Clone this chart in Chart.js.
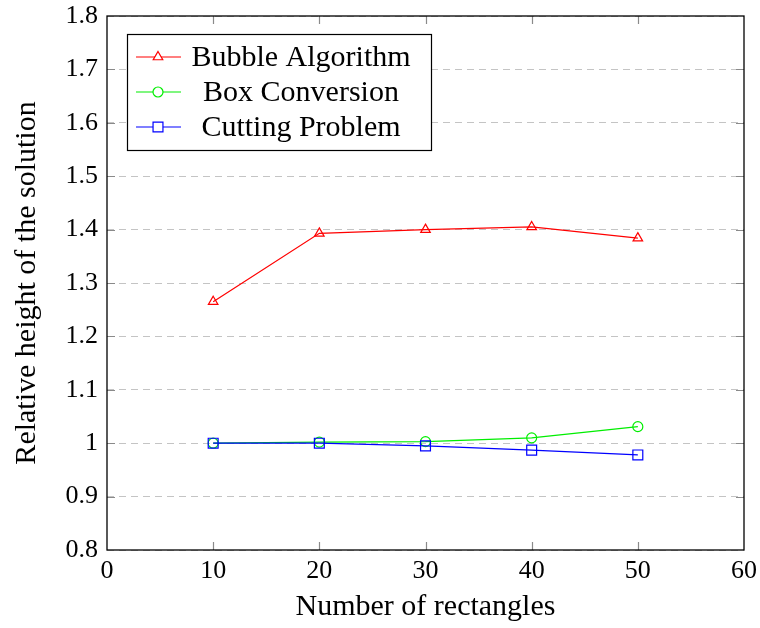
<!DOCTYPE html>
<html>
<head>
<meta charset="utf-8">
<script src="https://cdn.jsdelivr.net/npm/chart.js@4.4.0/dist/chart.umd.min.js"></script>
<style>
  html, body { margin: 0; padding: 0; background: #fff; }
  #wrap { width: 760px; height: 628px; }
</style>
</head>
<body>
<div id="wrap"><canvas id="myChart"></canvas></div>
<script>
// values per number of rectangles
const rectangles = [10, 20, 30, 40, 50];
const bubbleAlgorithm = [1.265, 1.393, 1.400, 1.405, 1.384];
const boxConversion = [1.000, 1.002, 1.003, 1.010, 1.031];
const cuttingProblem = [1.000, 1.000, 0.995, 0.987, 0.978];
const seriesNames = ["Bubble Algorithm", "Box Conversion", "Cutting Problem"];

const xTicks = [0, 10, 20, 30, 40, 50, 60];
const yTicks = [0.8, 0.9, 1, 1.1, 1.2, 1.3, 1.4, 1.5, 1.6, 1.7, 1.8];

const serif = "'Liberation Serif', 'Times New Roman', serif";

function toPoints(ys) {
  return rectangles.map((x, i) => ({ x: x, y: ys[i] }));
}

function series(label, ys, color, style, radius, order) {
  return {
    label: label,
    data: toPoints(ys),
    borderColor: color,
    backgroundColor: "rgba(0,0,0,0)",
    borderWidth: 1.2,
    pointStyle: style,
    pointRadius: radius,
    pointBorderWidth: 1.2,
    pointBorderColor: color,
    pointBackgroundColor: "rgba(0,0,0,0)",
    tension: 0,
    order: order
  };
}

// box around the plot, inward tick marks and the legend inside the plot
const framePlugin = {
  id: "frame",
  afterDraw(chart) {
    const ctx = chart.ctx;
    const a = chart.chartArea;
    const xs = chart.scales.x;
    const ys = chart.scales.y;
    const tick = 8;

    ctx.save();
    ctx.strokeStyle = "#8a8a8a";
    ctx.lineWidth = 1.2;
    ctx.beginPath();
    xTicks.slice(1, -1).forEach(v => {
      const px = Math.round(xs.getPixelForValue(v)) + 0.5;
      ctx.moveTo(px, a.bottom); ctx.lineTo(px, a.bottom - tick);
      ctx.moveTo(px, a.top); ctx.lineTo(px, a.top + tick);
    });
    yTicks.slice(1, -1).forEach(v => {
      const py = Math.round(ys.getPixelForValue(v)) + 0.5;
      ctx.moveTo(a.left, py); ctx.lineTo(a.left + tick, py);
      ctx.moveTo(a.right, py); ctx.lineTo(a.right - tick, py);
    });
    ctx.stroke();

    ctx.strokeStyle = "#000";
    ctx.lineWidth = 1.3;
    ctx.strokeRect(a.left, a.top, a.right - a.left, a.bottom - a.top);

    // legend
    const lx = 127, ly = 34, lw = 304, lh = 116;
    ctx.fillStyle = "#fff";
    ctx.fillRect(lx, ly, lw, lh);
    ctx.strokeStyle = "#000";
    ctx.lineWidth = 1.2;
    ctx.strokeRect(lx + 0.5, ly + 0.5, lw, lh);

    ctx.font = "30px " + serif;
    ctx.textAlign = "center";
    ctx.textBaseline = "middle";
    chart.data.datasets.forEach((ds, i) => {
      const cy = ly + 23 + i * 35;
      ctx.strokeStyle = ds.borderColor;
      ctx.lineWidth = 1.2;
      ctx.beginPath();
      ctx.moveTo(lx + 9, cy);
      ctx.lineTo(lx + 54, cy);
      ctx.stroke();
      ctx.fillStyle = "#fff";
      Chart.helpers.drawPoint(ctx, {
        pointStyle: ds.pointStyle,
        radius: ds.pointRadius,
        borderWidth: ds.pointBorderWidth,
        rotation: 0
      }, lx + 31, cy);
      ctx.fillStyle = "#000";
      ctx.fillText(ds.label, lx + 174, cy + 1);
    });
    ctx.restore();
  }
};

new Chart(document.getElementById("myChart"), {
  type: "line",
  data: {
    datasets: [
      series(seriesNames[0], bubbleAlgorithm, "#ff0000", "triangle", 5.5, 2),
      series(seriesNames[1], boxConversion, "#00ee00", "circle", 5, 1),
      series(seriesNames[2], cuttingProblem, "#0000ff", "rect", 7, 0)
    ]
  },
  plugins: [framePlugin],
  options: {
    responsive: true,
    maintainAspectRatio: false,
    animation: false,
    layout: { padding: { top: 16, right: 16, left: 0, bottom: 0 } },
    plugins: {
      legend: { display: false },
      tooltip: { enabled: false }
    },
    scales: {
      x: {
        type: "linear",
        min: 0,
        max: 60,
        afterBuildTicks: s => { s.ticks = xTicks.map(v => ({ value: v })); },
        afterFit: s => { s.height = 78; s.paddingLeft = 0; s.paddingRight = 0; },
        ticks: {
          color: "#000",
          font: { family: serif, size: 26 },
          padding: 6,
          maxRotation: 0
        },
        grid: { display: false, drawTicks: false },
        border: { display: false },
        title: {
          display: true,
          text: "Number of rectangles",
          color: "#000",
          font: { family: serif, size: 30 },
          padding: { top: 0, bottom: 3 }
        }
      },
      y: {
        type: "linear",
        min: 0.8,
        max: 1.8,
        afterBuildTicks: s => { s.ticks = yTicks.map(v => ({ value: v })); },
        afterFit: s => { s.width = 107; s.paddingTop = 0; s.paddingBottom = 0; },
        ticks: {
          color: "#000",
          font: { family: serif, size: 26 },
          padding: 9,
          callback: v => String(+v.toFixed(1))
        },
        grid: {
          color: "#c4c4c4",
          lineWidth: 1,
          drawTicks: false
        },
        border: { display: false, dash: [7, 5] },
        title: {
          display: true,
          text: "Relative height of the solution",
          color: "#000",
          font: { family: serif, size: 30 },
          padding: { top: 9, bottom: 0 }
        }
      }
    }
  }
});
</script>
</body>
</html>
